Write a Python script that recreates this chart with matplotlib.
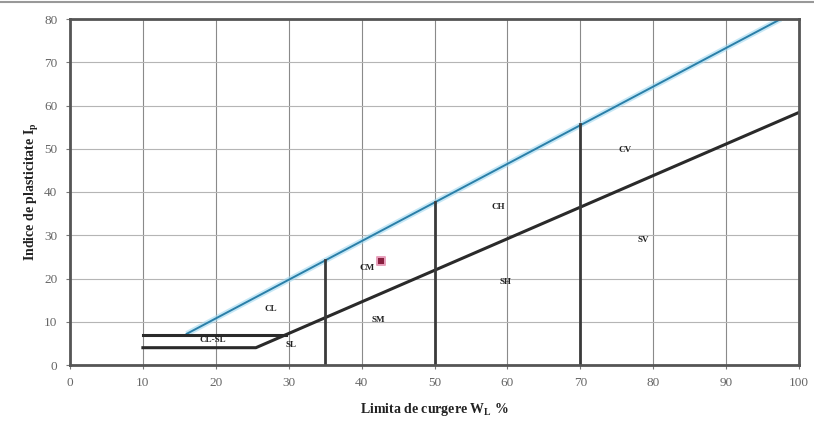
import matplotlib
matplotlib.use("Agg")
import matplotlib.pyplot as plt

# Data
a_line_ll = [10, 25.5, 100]
a_line_pi = [4, 4, 58.4]
upper_h_ll = [10, 29.6]
upper_h_pi = [7, 7]
u_line_ll = [16, 97.5]
u_line_pi = [7.2, 80]
vline_ll = [35, 50, 70]
vline_top = [24.3, 37.8, 55.8]
zone_labels = ["CL", "CL-SL", "SL", "CM", "SM", "CH", "SH", "CV", "SV"]
zone_ll = [27.6, 19.6, 30.3, 40.8, 42.3, 58.8, 59.7, 76.2, 78.6]
zone_pi = [13.0, 5.8, 4.6, 22.4, 10.4, 36.5, 19.2, 49.8, 29.0]
sample_ll = [42.6]
sample_pi = [24.0]
x_ticks = [0, 10, 20, 30, 40, 50, 60, 70, 80, 90, 100]
y_ticks = [0, 10, 20, 30, 40, 50, 60, 70, 80]

plt.rcParams['font.family'] = ['Liberation Serif', 'DejaVu Serif']

fig = plt.figure(figsize=(8.14, 4.24), dpi=100)
ax = fig.add_axes([70/814, 1-365/424, (799-70)/814, (365-19)/424])
ax.set_xlim(0, 100)
ax.set_ylim(0, 80)
ax.set_xticks(x_ticks)
ax.set_yticks(y_ticks)
ax.grid(True, axis="y", color="#b5b5b5", lw=0.8)
ax.grid(True, axis="x", color="#8a8a8a", lw=0.8)
ax.set_axisbelow(True)
for s in ax.spines.values():
    s.set_color("#555555")
    s.set_linewidth(2.0)
ax.tick_params(colors="#777777", labelsize=9.5, length=3, width=0.8, labelcolor="#666666", pad=6)

ax.plot(u_line_ll, u_line_pi, color="#9fd8f0", lw=4, solid_capstyle="butt", alpha=0.6)
ax.plot(u_line_ll, u_line_pi, color="#2a7fa8", lw=1.4)
ax.plot(a_line_ll, a_line_pi, color="#2a2a2a", lw=2.2)
ax.plot(upper_h_ll, upper_h_pi, color="#2a2a2a", lw=2.2)
for x, top in zip(vline_ll, vline_top):
    ax.plot([x, x], [0, top], color="#3a3a3a", lw=2.0)

for t, x, y in zip(zone_labels, zone_ll, zone_pi):
    ax.text(x, y, t, fontsize=6.5, fontweight="bold", ha="center", va="center", color="#222222")

ax.scatter(sample_ll, sample_pi, marker="s", s=26, color="#8a1f3f", edgecolors="#e8a0bc", linewidths=1.4, zorder=5)

ax.set_xlabel("Limita de curgere W$_\\mathregular{L}$ %", fontsize=10, fontweight="bold", color="#222222", labelpad=8)
ax.set_ylabel("Indice de plasticitate I$_\\mathregular{p}$", fontsize=10, fontweight="bold", color="#222222", labelpad=2)

fig.add_artist(plt.Line2D([0, 1], [0.996, 0.996], color="#999999", lw=1.5, transform=fig.transFigure))

fig.savefig("out.png", dpi=100)
